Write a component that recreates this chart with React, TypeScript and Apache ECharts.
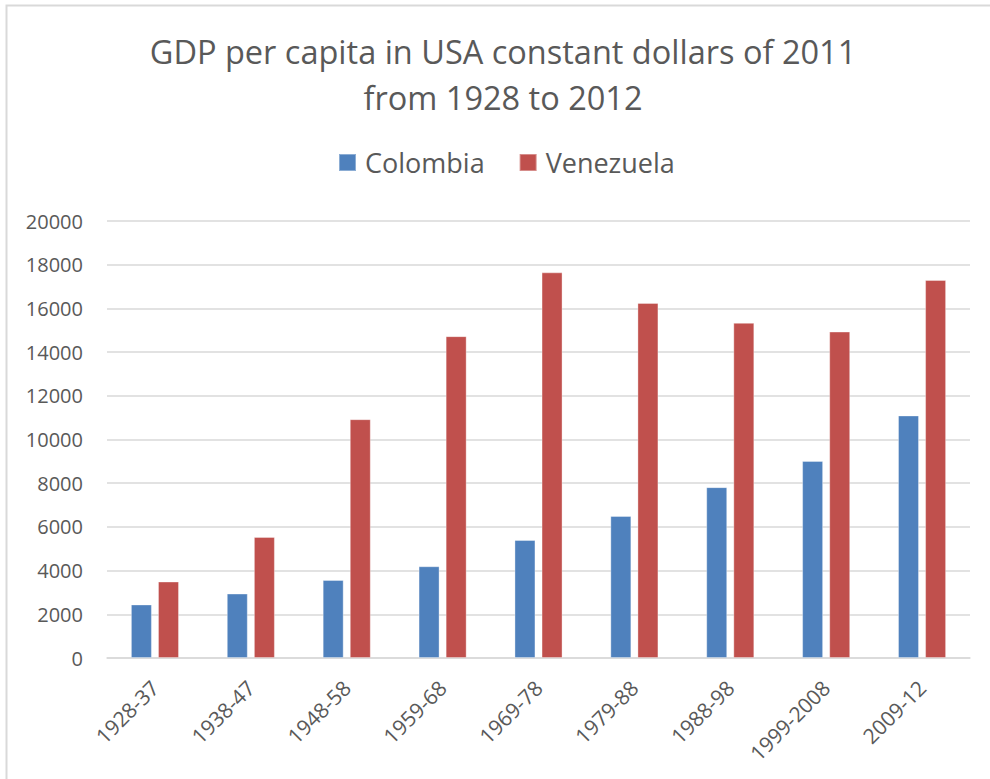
import React, { useEffect, useRef } from "react";
import * as echarts from "echarts";

const categories = ["1928-37", "1938-47", "1948-58", "1959-68", "1969-78", "1979-88", "1988-98", "1999-2008", "2009-12"];
const colombia = [2450, 2950, 3570, 4200, 5400, 6500, 7820, 9020, 11100];
const venezuela = [3500, 5540, 10930, 14730, 17650, 16250, 15340, 14940, 17300];
const seriesNames = ["Colombia", "Venezuela"];
const titleText = "GDP per capita in USA constant dollars of 2011\nfrom 1928 to 2012";

const FONT = "'Open Sans', 'Noto Sans', sans-serif";
const GREY = "#595959";

export default function App() {
  const ref = useRef<HTMLDivElement>(null);
  useEffect(() => {
    if (!ref.current) return;
    const chart = echarts.init(ref.current, undefined, { renderer: "svg" });
    chart.setOption({
      animation: false,
      backgroundColor: "#fff",
      title: {
        text: titleText,
        left: 503,
        textAlign: "center",
        top: 28,
        padding: 0,
        textStyle: { fontFamily: FONT, fontSize: 32.5, fontWeight: "normal", color: GREY, lineHeight: 46 },
      },
      legend: {
        data: seriesNames,
        left: 338,
        top: 149,
        padding: 0,
        itemWidth: 17,
        itemHeight: 17,
        itemGap: 34,
        icon: "rect",
        textStyle: { fontFamily: FONT, fontSize: 27, color: GREY, padding: [0, 0, 0, 4] },
      },
      grid: { left: 107, right: 20, top: 221, bottom: 121, containLabel: false },
      xAxis: {
        type: "category",
        data: categories,
        axisLine: { lineStyle: { color: "#d9d9d9", width: 1.5 } },
        axisTick: { show: false },
        axisLabel: { rotate: 45, fontFamily: FONT, fontSize: 21, color: GREY, margin: 26, interval: 0 },
      },
      yAxis: {
        type: "value",
        min: 0,
        max: 20000,
        interval: 2000,
        axisLine: { show: false },
        axisTick: { show: false },
        splitLine: { lineStyle: { color: "#d9d9d9", width: 1.5 } },
        axisLabel: { fontFamily: FONT, fontSize: 20, color: GREY, margin: 24, formatter: (v: number) => String(v) },
      },
      series: [
        {
          name: seriesNames[0],
          type: "bar",
          data: colombia,
          barWidth: 21,
          barGap: "29%",
          itemStyle: { color: "#4F81BD", borderColor: "rgba(255,255,255,0.35)", borderWidth: 1 },
        },
        {
          name: seriesNames[1],
          type: "bar",
          data: venezuela,
          barWidth: 21,
          itemStyle: { color: "#C0504D", borderColor: "rgba(255,255,255,0.35)", borderWidth: 1 },
        },
      ],
      graphic: [
        {
          type: "polyline",
          silent: true,
          shape: { points: [[6.5, 790], [6.5, 5.5], [1000, 5.5]] },
          style: { stroke: "#d9d9d9", lineWidth: 2, fill: "none" },
        },
      ],
    });
    return () => chart.dispose();
  }, []);
  return <div ref={ref} style={{ position: "fixed", left: 0, top: 0, width: 990, height: 779 }} />;
}
